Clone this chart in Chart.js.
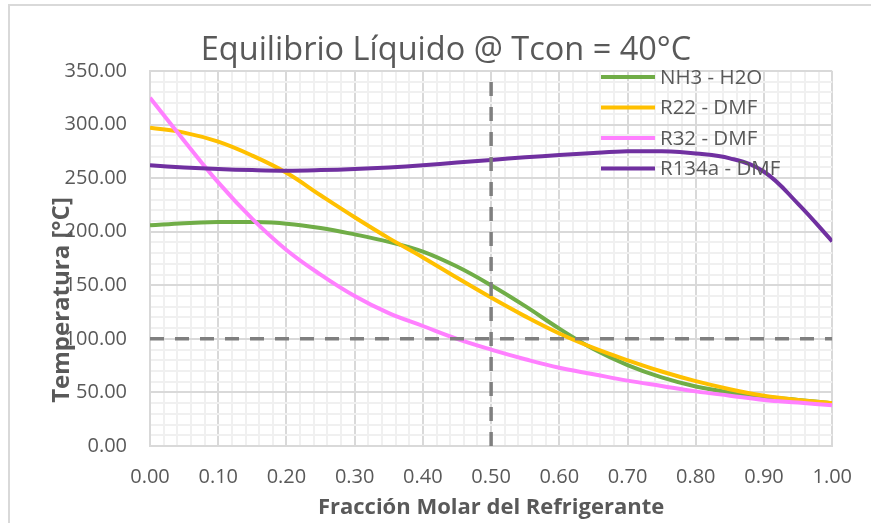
<!DOCTYPE html>
<html>
<head>
<meta charset="utf-8">
<script src="https://cdn.jsdelivr.net/npm/chart.js@4.4.1/dist/chart.umd.min.js"></script>
<style>
  html, body { margin: 0; padding: 0; background: #fff; }
  #wrap { position: relative; width: 871px; height: 523px; overflow: hidden; }
  #frame { position: absolute; left: 8px; top: 4px; width: 880px; height: 540px;
           border: 2px solid #d9d9d9; box-sizing: border-box; pointer-events: none; }
</style>
</head>
<body>
<div id="wrap">
  <canvas id="chart" width="871" height="523"></canvas>
  <div id="frame"></div>
</div>
<script>
// fraccion molar del refrigerante (eje x)
const fraccion = [0.00, 0.05, 0.10, 0.15, 0.20, 0.25, 0.30, 0.35, 0.40, 0.45, 0.50,
                  0.55, 0.60, 0.65, 0.70, 0.75, 0.80, 0.85, 0.90, 0.95, 1.00];

// temperaturas [°C]
const nh3H2O   = [206, 208, 209, 209, 207.5, 203.5, 197.5, 190.5, 181.5, 167.5, 150,
                  130.5, 109.5, 90.5, 75.5, 64, 55.5, 50, 46, 43, 40];
const r22DMF   = [297, 292.5, 284, 271, 255, 234, 213.5, 194, 176, 157, 138.5,
                  121, 105, 91.5, 80, 69.5, 60.5, 53, 47, 43, 40];
const r32DMF   = [325, 285, 246, 212, 183, 160, 140, 124, 112, 100, 90,
                  81, 73, 67, 61, 56, 51, 47, 43, 40.5, 38];
const r134aDMF = [262, 260, 258.5, 257.5, 257, 257.5, 258.5, 260, 262, 264.5, 267,
                  269.5, 271.5, 273.5, 275, 275, 273, 268.5, 256, 226, 191];

const series = ['NH3 - H2O', 'R22 - DMF', 'R32 - DMF', 'R134a - DMF'];
const colores = ['#70AD47', '#FFC000', '#FF80FF', '#7030A0'];

// lineas guia
const guiaX = [0.5, 0.5];
const guiaXT = [0, 350];
const guiaY = [0, 1];
const guiaYT = [100, 100];

const titulo = 'Equilibrio Líquido @ Tcon = 40°C';
const tituloX = 'Fracción Molar del Refrigerante';
const tituloY = 'Temperatura [°C]';

const FONT = '"Open Sans", sans-serif';
const GRIS = '#595959';

const pts = (xs, ys) => xs.map((x, i) => ({ x: x, y: ys[i] }));
const isMajor = (v, step) => Math.abs(v / step - Math.round(v / step)) < 1e-6;

const datos = [nh3H2O, r22DMF, r32DMF, r134aDMF];
const datasets = datos.map((d, i) => ({
  label: series[i],
  data: pts(fraccion, d),
  borderColor: colores[i],
  backgroundColor: colores[i],
  borderWidth: 4,
  pointRadius: 0,
  tension: 0.4,
  order: 4 - i,
  enLeyenda: true
}));
[[guiaX, guiaXT], [guiaY, guiaYT]].forEach(g => datasets.push({
  label: '',
  data: pts(g[0], g[1]),
  borderColor: '#7f7f7f',
  borderWidth: 3.5,
  borderDash: [14, 11],
  pointRadius: 0,
  order: 0
}));

const leyenda = {
  id: 'leyenda',
  afterDatasetsDraw(chart) {
    const { ctx, chartArea: a } = chart;
    ctx.save();
    ctx.font = '20.5px ' + FONT;
    ctx.textBaseline = 'middle';
    ctx.textAlign = 'left';
    let y = a.top + 6;
    chart.data.datasets.filter(d => d.enLeyenda).forEach(d => {
      ctx.strokeStyle = d.borderColor;
      ctx.lineWidth = 4;
      ctx.beginPath();
      ctx.moveTo(a.left + 451, y);
      ctx.lineTo(a.left + 505, y);
      ctx.stroke();
      ctx.fillStyle = GRIS;
      ctx.fillText(d.label, a.left + 510, y + 1);
      y += 30.5;
    });
    ctx.restore();
  }
};

const titulos = {
  id: 'titulos',
  afterDraw(chart) {
    const { ctx, chartArea: a } = chart;
    ctx.save();
    ctx.fillStyle = GRIS;
    ctx.textAlign = 'center';
    ctx.textBaseline = 'alphabetic';
    ctx.font = '32.5px ' + FONT;
    ctx.fillText(titulo, 446, 60);
    ctx.font = 'bold 22px ' + FONT;
    ctx.fillText(tituloX, (a.left + a.right) / 2, 514);
    ctx.font = 'bold 24px ' + FONT;
    ctx.translate(69, 300);
    ctx.rotate(-Math.PI / 2);
    ctx.fillText(tituloY, 0, 0);
    ctx.restore();
  }
};

new Chart(document.getElementById('chart'), {
  type: 'line',
  data: { datasets: datasets },
  options: {
    responsive: false,
    animation: false,
    layout: { padding: { top: 71, right: 37, left: 0, bottom: 0 } },
    plugins: { legend: { display: false }, tooltip: { enabled: false } },
    scales: {
      x: {
        type: 'linear',
        min: 0, max: 1,
        afterFit: s => { s.height = 77; },
        border: { color: '#d9d9d9', width: 2 },
        grid: {
          drawTicks: false,
          lineWidth: 2,
          color: c => isMajor(c.tick.value, 0.1) ? '#d9d9d9' : '#f0f0f0'
        },
        ticks: {
          stepSize: 0.02,
          autoSkip: false,
          maxRotation: 0, minRotation: 0,
          padding: 19,
          color: GRIS,
          font: { family: FONT, size: 20 },
          callback: v => isMajor(v, 0.1) ? v.toFixed(2) : ''
        }
      },
      y: {
        type: 'linear',
        min: 0, max: 350,
        afterFit: s => { s.width = 150; },
        border: { color: '#d9d9d9', width: 2 },
        grid: {
          drawTicks: false,
          lineWidth: 2,
          color: c => isMajor(c.tick.value, 50) ? '#d9d9d9' : '#f0f0f0'
        },
        ticks: {
          stepSize: 10,
          autoSkip: false,
          padding: 23,
          color: GRIS,
          font: { family: FONT, size: 20 },
          callback: v => isMajor(v, 50) ? v.toFixed(2) : ''
        }
      }
    }
  },
  plugins: [leyenda, titulos]
});
</script>
</body>
</html>
